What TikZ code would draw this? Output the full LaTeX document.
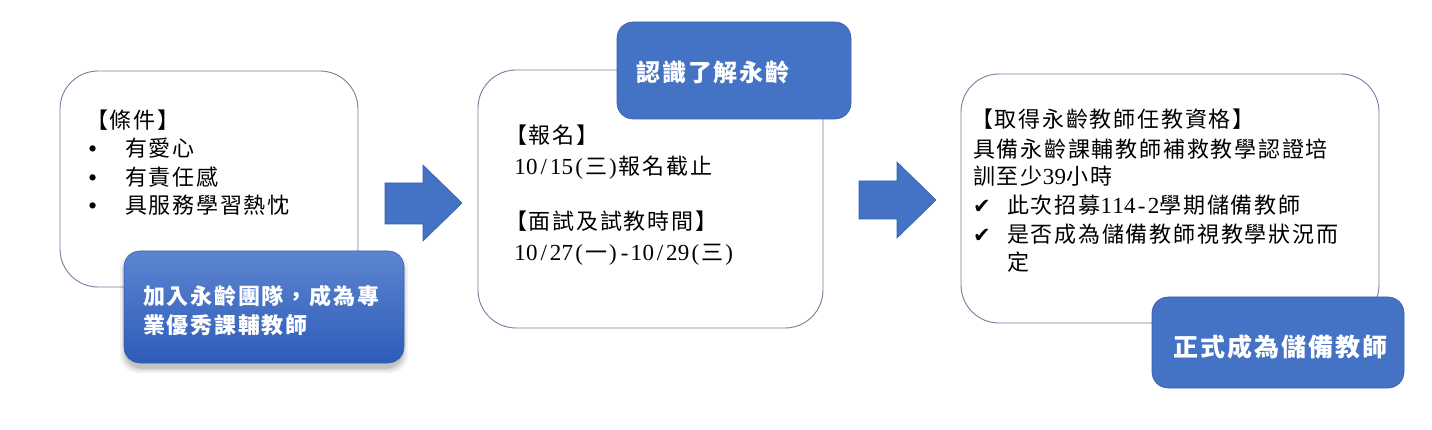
\documentclass[tikz,border=0pt]{standalone}
\usepackage{fontspec}
\setmainfont{Noto Sans CJK TC}[LetterSpace=8]
\newfontfamily\lat{Liberation Serif}
\newfontfamily\sym{DejaVu Sans}
\newcommand\hws[1]{\hwloop#1\relax}
\def\hwloop#1{\ifx\relax#1\else\makebox[11.8pt]{\lat\fontsize{23}{28}\selectfont#1}\expandafter\hwloop\fi}
\definecolor{accent}{RGB}{68,114,196}
\definecolor{accentdark}{RGB}{55,95,170}
\definecolor{gradtop}{RGB}{92,132,208}
\definecolor{gradbot}{RGB}{46,92,184}
\definecolor{frame}{RGB}{112,130,158}
\begin{document}
\begin{tikzpicture}[x=1pt,y=-1pt,
  whitebox/.style={draw=frame,line width=0.9pt,fill=white,rounded corners=38pt},
  bluebox/.style={draw=accentdark,line width=0.6pt,fill=accent,rounded corners=16pt},
  blockarrow/.style={draw=accentdark,line width=0.6pt,fill=accent},
  bodytext/.style={anchor=base west,inner sep=0pt,font=\fontsize{22}{28}\selectfont,text=black},
  headtext/.style={anchor=base west,inner sep=0pt,text=white,font=\bfseries},
  bulletmark/.style={anchor=base west,inner sep=0pt,font=\lat\fontsize{26}{28}\selectfont},
  checkmark/.style={anchor=base west,inner sep=0pt,font=\sym\fontsize{21}{24}\selectfont}]
\useasboundingbox (0,0) rectangle (1432,430);

% ---------- panel 1 ----------
\draw[whitebox] (60,71) rectangle (358,287);
\node[bodytext] (c1) at (86,129) {【條件】};
\node[bulletmark] (b1) at (88,158) {•};
\node[bodytext] (t1) at (125,157) {有愛心};
\node[bulletmark] (b2) at (88,187) {•};
\node[bodytext] (t2) at (125,186) {有責任感};
\node[bulletmark] (b3) at (88,215) {•};
\node[bodytext] (t3) at (125,214) {具服務學習熱忱};

\foreach \k/\o in {6/0.05,4/0.08,2/0.12}
  \fill[black,opacity=\o,rounded corners=18pt] (124-\k+2,251-\k+6) rectangle (404+\k-2,363+\k+4);
\shade[top color=gradtop,bottom color=gradbot,draw=accentdark,line width=0.6pt,rounded corners=16pt]
  (124,251) rectangle (404,363);
\node[headtext,font=\bfseries\fontsize{22}{28}\selectfont] (h1a) at (143,305) {加入永齡團隊，成為專};
\node[headtext,font=\bfseries\fontsize{22}{28}\selectfont] (h1b) at (143,333) {業優秀課輔教師};

% ---------- arrow 1 ----------
\draw[blockarrow] (385,183) -- (423,183) -- (423,165) -- (462,203) -- (423,241) -- (423,224) -- (385,224) -- cycle;

% ---------- panel 2 ----------
\draw[whitebox] (478,70) rectangle (823,328);
\draw[bluebox] (617,22) rectangle (851,119);
\node[headtext,font=\bfseries\fontsize{24}{30}\selectfont] (h2) at (636,82) {認識了解永齡};
\node[bodytext] (r1) at (505,144) {【報名】};
\node[bodytext] (r2) at (514,175) {\hws{10/15(}三\hws{)}報名截止};
\node[bodytext] (r3) at (505,230) {【面試及試教時間】};
\node[bodytext] (r4) at (514,261) {\hws{10/27(}一\hws{)-10/29(}三\hws{)}};

% ---------- arrow 2 ----------
\draw[blockarrow] (859,181) -- (897,181) -- (897,162) -- (936,200) -- (897,238) -- (897,219) -- (859,219) -- cycle;

% ---------- panel 3 ----------
\draw[whitebox] (961,74) rectangle (1379,323);
\node[bodytext] (q1) at (971,128) {【取得永齡教師任教資格】};
\node[bodytext] (q2) at (973,158) {具備永齡課輔教師補救教學認證培};
\node[bodytext] (q3) at (973,185) {訓至少\hws{39}小時};
\node[checkmark] (k1) at (973,214) {✔};
\node[bodytext] (q4) at (1007,214) {此次招募\hws{114-2}學期儲備教師};
\node[checkmark] (k2) at (973,243) {✔};
\node[bodytext] (q5) at (1007,243) {是否成為儲備教師視教學狀況而};
\node[bodytext] (q6) at (1007,271) {定};
\draw[bluebox] (1152,297) rectangle (1404,388);
\node[headtext,anchor=base,font=\bfseries\fontsize{25}{30}\selectfont] (h3) at (1280,356) {正式成為儲備教師};
\end{tikzpicture}
\end{document}
